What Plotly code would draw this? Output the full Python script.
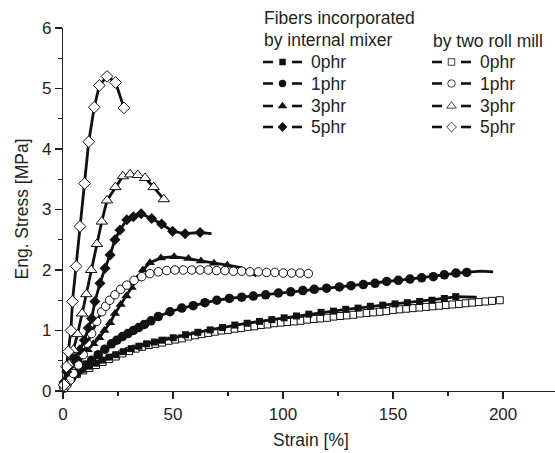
import plotly.graph_objects as go

# ---------------- data ----------------
# Internal mixer (filled symbols)
im0_x = [0.5, 3, 6, 9, 12, 15, 18, 21, 24, 27.5, 31, 34.5, 38, 41.5, 45, 50.1, 55.7, 61.3, 66.9, 72.5,
         78.1, 83.7, 89.3, 94.9, 100.5, 106.1, 111.7, 117.3, 122.9, 128.5, 134.1, 139.7, 145.3, 150.9,
         156.5, 162.1, 167.7, 173.3, 178.5, 183, 188]
im0_y = [0.04, 0.2, 0.3, 0.36, 0.41, 0.46, 0.51, 0.56, 0.6, 0.65, 0.7, 0.74, 0.78, 0.81, 0.84, 0.88, 0.93,
         0.97, 1.01, 1.05, 1.09, 1.12, 1.15, 1.18, 1.21, 1.24, 1.27, 1.3, 1.32, 1.35, 1.37, 1.4, 1.42, 1.44,
         1.46, 1.48, 1.5, 1.53, 1.56, 1.55, 1.55]
im0_tail = 2

im1_x = [0.5, 2, 4, 6, 8, 10, 13, 16, 19, 22, 24.5, 27, 29.5, 32, 34.5, 37, 40, 43.3, 48.6, 54, 59.2,
         64.5, 69.9, 75.6, 81.2, 86.5, 92.1, 97.9, 103.5, 109, 114.2, 119.8, 125.6, 130.9, 136.5, 141.8,
         147.1, 152.4, 157.7, 163, 168.3, 173.3, 178.6, 183.5, 190, 195.5]
im1_y = [0.05, 0.13, 0.22, 0.29, 0.36, 0.43, 0.51, 0.6, 0.69, 0.78, 0.84, 0.9, 0.95, 1.0, 1.05, 1.1,
         1.16, 1.23, 1.31, 1.37, 1.41, 1.46, 1.5, 1.53, 1.55, 1.57, 1.59, 1.62, 1.64, 1.66, 1.68, 1.7,
         1.72, 1.74, 1.76, 1.78, 1.81, 1.83, 1.85, 1.87, 1.89, 1.92, 1.95, 1.96, 1.98, 1.97]
im1_tail = 2

im3_x = [0.5, 2.5, 4.5, 6.8, 9.0, 11.2, 13.8, 16.5, 18.8, 21.4, 23.6, 26.2, 28.8, 31.2, 33.8, 36.3,
         39.5, 44.5, 50.5, 57, 62.7, 68.6, 74.7, 81, 88]
im3_y = [0.08, 0.28, 0.42, 0.52, 0.6, 0.68, 0.78, 0.88, 1.0, 1.13, 1.28, 1.43, 1.57, 1.71, 1.86, 2.0,
         2.12, 2.2, 2.22, 2.19, 2.15, 2.11, 2.08, 2.04, 1.9]
im3_tail = 2

im5_x = [0.5, 1.7, 3.2, 5.5, 7.7, 9.7, 11.5, 13.0, 14.5, 16.8, 19.1, 21.4, 23.6, 25.9, 29.0, 32.0,
         35.5, 40.3, 44.8, 49.8, 55.5, 62.3, 67.5]
im5_y = [0.15, 0.32, 0.43, 0.54, 0.68, 0.84, 1.04, 1.2, 1.48, 1.78, 2.03, 2.25, 2.5, 2.66, 2.83, 2.88,
         2.93, 2.85, 2.76, 2.64, 2.6, 2.62, 2.6]
im5_tail = 1

# Two roll mill (open symbols)
tr0_x = [0.8, 3.5, 6.3, 9.2, 12, 15, 18, 21, 24, 27, 30, 33, 36, 39, 42, 45, 48, 51, 54, 57, 60, 63, 66,
         69, 72, 75, 78, 81, 84, 87, 90, 93, 96, 99, 102, 105, 108, 111, 114, 117, 120, 123, 126, 129,
         132, 135, 138, 141, 144, 147, 150, 153, 156, 159, 162, 165, 168, 171, 174, 177, 180, 183, 186,
         189, 192, 195, 198.5]
tr0_y = [0.08, 0.21, 0.28, 0.34, 0.38, 0.43, 0.48, 0.53, 0.57, 0.62, 0.66, 0.7, 0.73, 0.76, 0.78, 0.8,
         0.83, 0.85, 0.87, 0.9, 0.92, 0.94, 0.96, 0.98, 1.0, 1.01, 1.03, 1.04, 1.06, 1.07, 1.09, 1.1,
         1.12, 1.13, 1.14, 1.15, 1.16, 1.18, 1.19, 1.2, 1.21, 1.23, 1.24, 1.25, 1.26, 1.28, 1.29, 1.3,
         1.31, 1.32, 1.34, 1.35, 1.36, 1.37, 1.38, 1.39, 1.4, 1.41, 1.42, 1.43, 1.44, 1.45, 1.46, 1.47,
         1.48, 1.49, 1.5]

tr1_x = [0.5, 1.7, 3.2, 4.7, 7.0, 9.2, 11.0, 13.0, 15.3, 17.6, 19.4, 21.2, 23.6, 26.2, 29.0, 32.3, 35.8,
         39.5, 43.3, 47.1, 50.9, 54.7, 58.5, 62.3, 66.0, 69.8, 73.6, 77.4, 81.2, 85.0, 88.8, 92.5, 96.3,
         100.1, 103.9, 107.7, 111.5]
tr1_y = [0.05, 0.1, 0.18, 0.29, 0.43, 0.6, 0.79, 0.95, 1.15, 1.31, 1.4, 1.5, 1.59, 1.68, 1.75, 1.83, 1.89,
         1.94, 1.97, 1.99, 2.0, 2.0, 2.0, 2.0, 2.0, 1.99, 1.99, 1.98, 1.98, 1.97, 1.97, 1.96, 1.96, 1.95,
         1.95, 1.95, 1.94]

tr3_x = [0.8, 2.6, 4.7, 6.6, 8.7, 10.6, 12.8, 15.4, 17.6, 20.0, 23.8, 27.2, 30.5, 34.0, 37.3, 41.2, 45.8]
tr3_y = [0.15, 0.45, 0.68, 0.94, 1.28, 1.6, 2.0, 2.43, 2.8, 3.15, 3.37, 3.55, 3.58, 3.57, 3.52, 3.37, 3.17]

tr5_x = [0.5, 1.6, 2.4, 3.6, 4.3, 6.0, 7.7, 9.8, 11.7, 14.2, 16.5, 20.0, 23.9, 27.7]
tr5_y = [0.1, 0.4, 0.65, 1.0, 1.48, 2.06, 2.72, 3.43, 4.12, 4.69, 5.05, 5.2, 5.1, 4.68]

legend_labels = ["0phr", "1phr", "3phr", "5phr"]
x_ticks = [0, 50, 100, 150, 200]
y_ticks = [0, 1, 2, 3, 4, 5, 6]

# ---------------- style ----------------
INK = "#231f20"
LINE = "#111111"
FONT = "Liberation Sans, Arial, sans-serif"
W, H = 555, 453
L, R, T, B = 63, 0, 28, 62
PW, PH = W - L - R, H - T - B


def px(x):
    return (x - L) / PW


def py(y):
    return (H - B - y) / PH


fig = go.Figure()


def add_series(x, y, symbol, size, filled, tail=0):
    n = len(x)
    sizes = [size] * (n - tail) + [0] * tail
    fig.add_trace(go.Scatter(
        x=x, y=y, mode="lines+markers", cliponaxis=False, showlegend=False,
        line=dict(color=LINE, width=2.8),
        marker=dict(symbol=symbol, size=sizes, opacity=1,
                    color=LINE if filled else "white",
                    line=dict(color=LINE, width=0 if filled else 1)),
    ))


add_series(tr0_x, tr0_y, "square", 7, False)
add_series(im0_x, im0_y, "square", 7, True, im0_tail)
add_series(im1_x, im1_y, "circle", 9.5, True, im1_tail)
add_series(im3_x, im3_y, "triangle-up", 9, True, im3_tail)
add_series(tr1_x, tr1_y, "circle", 8.5, False)
add_series(im5_x, im5_y, "diamond", 8.5, True, im5_tail)
add_series(tr3_x, tr3_y, "triangle-up", 10, False)
add_series(tr5_x, tr5_y, "diamond", 9, False)

# ---------------- custom legend on a pixel-space overlay axis ----------------
rows = [62, 83.5, 106, 127]
syms = ["square", "circle", "triangle-up", "diamond"]
lsize = [6.5, 7.5, 8.5, 7.5]
tfont = dict(size=17.5, color=INK, family=FONT)
tickfont = dict(size=17, color=INK, family=FONT)
for col_x, filled in [(263, True), (432, False)]:
    dx, dy = [], []
    for r in rows:
        dx += [col_x, col_x + 10, None, col_x + 29, col_x + 39, None]
        dy += [r, r, None, r, r, None]
    fig.add_trace(go.Scatter(x=dx, y=dy, xaxis="x2", yaxis="y2", mode="lines",
                             line=dict(color=LINE, width=2.6), showlegend=False,
                             cliponaxis=False, hoverinfo="skip"))
    fig.add_trace(go.Scatter(x=[col_x + 19.5] * 4, y=rows, xaxis="x2", yaxis="y2",
                             mode="markers", showlegend=False, cliponaxis=False,
                             marker=dict(symbol=syms, size=lsize, opacity=1,
                                         color=LINE if filled else "white",
                                         line=dict(color=LINE, width=0 if filled else 0.8))))
    for r, lab in zip(rows, legend_labels):
        fig.add_annotation(x=px(col_x + 46), y=py(r), xref="paper", yref="paper", text=lab,
                           showarrow=False, xanchor="left", yanchor="middle", font=tfont)

fig.add_annotation(x=px(262), y=py(18), xref="paper", yref="paper", text="Fibers incorporated",
                   showarrow=False, xanchor="left", yanchor="middle", font=tfont)
fig.add_annotation(x=px(262), y=py(39.5), xref="paper", yref="paper", text="by internal mixer",
                   showarrow=False, xanchor="left", yanchor="middle", font=tfont)
fig.add_annotation(x=px(431), y=py(41), xref="paper", yref="paper", text="by two roll mill",
                   showarrow=False, xanchor="left", yanchor="middle", font=tfont)

# axis titles
fig.add_annotation(x=px(311), y=py(440), xref="paper", yref="paper", text="Strain [%]",
                   showarrow=False, xanchor="center", yanchor="middle", font=tfont)
fig.add_annotation(x=px(21), y=py(209.5), xref="paper", yref="paper", text="Eng. Stress [MPa]",
                   showarrow=False, textangle=-90, xanchor="center", yanchor="middle", font=tfont)

axis_common = dict(showline=True, linecolor=INK, linewidth=1.2, ticks="outside", ticklen=7,
                   tickwidth=1.2, tickcolor=INK, showgrid=False, zeroline=False,
                   tickfont=tickfont)

fig.update_layout(
    width=W, height=H,
    margin=dict(l=L, r=R, t=T, b=B, autoexpand=False),
    paper_bgcolor="white", plot_bgcolor="white",
    showlegend=False,
    hovermode=False,
    xaxis=dict(range=[0, 223.6], tickvals=x_ticks,
               minor=dict(dtick=25, tick0=0, ticks="outside", ticklen=4, tickwidth=1.2, tickcolor=INK),
               **axis_common),
    yaxis=dict(range=[0, 6], tickvals=y_ticks,
               minor=dict(dtick=0.5, tick0=0, ticks="outside", ticklen=4, tickwidth=1.2, tickcolor=INK),
               **axis_common),
    xaxis2=dict(range=[L, W - R], overlaying="x", anchor="y2", visible=False, fixedrange=True),
    yaxis2=dict(range=[H - B, T], overlaying="y", anchor="x2", visible=False, fixedrange=True),
)

fig.write_html("out.html", config={"displayModeBar": False, "staticPlot": True},
               post_script="document.body.style.margin='0';")
